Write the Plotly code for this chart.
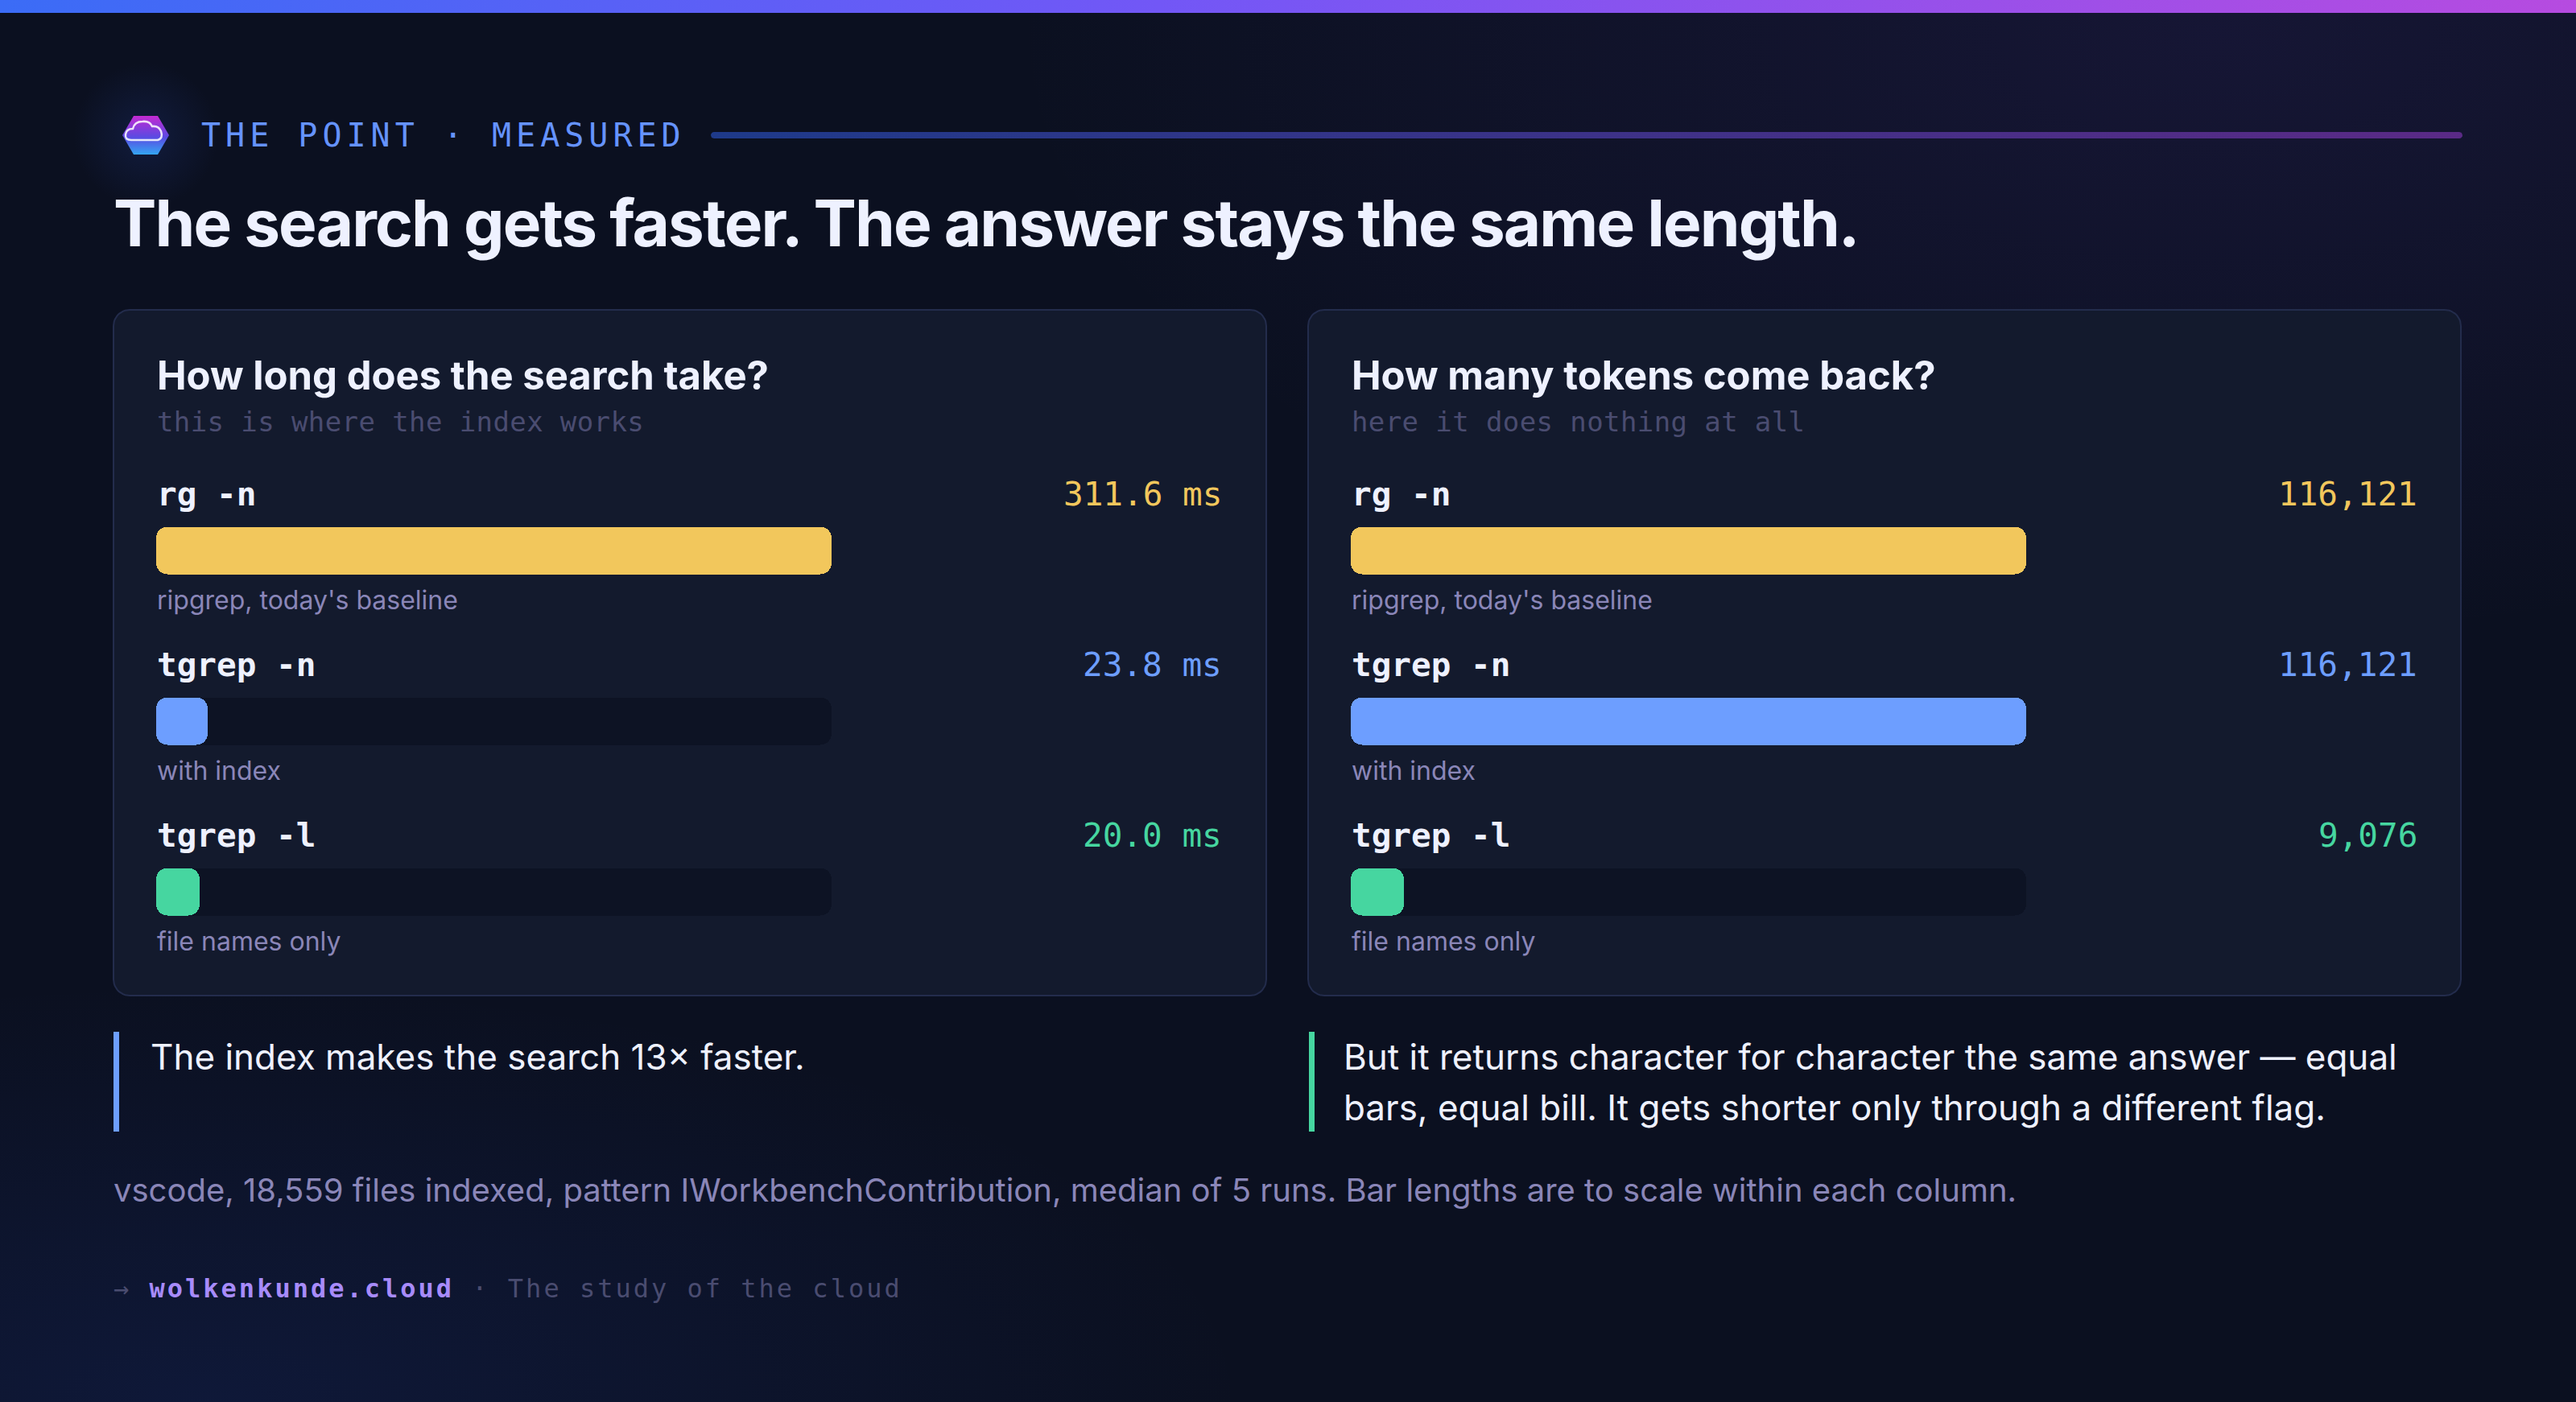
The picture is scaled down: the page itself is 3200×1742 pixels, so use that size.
import json
import numpy as np
import plotly.graph_objects as go

W, H = 3200, 1742

# ---------------- data ----------------
commands = ["rg -n", "tgrep -n", "tgrep -l"]
notes = ["ripgrep, today's baseline", "with index", "file names only"]
time_ms = [311.6, 23.8, 20.0]
tokens = [116121, 116121, 9076]
bar_colors = ["#f2c75c", "#6d9eff", "#46d6a0"]

time_labels = [f"{v:.1f} ms" for v in time_ms]
token_labels = [f"{v:,}" for v in tokens]

# ---------------- style ----------------
BG = "#0b1020"
PANEL = "#131a2d"
PANEL_LINE = "#232c4c"
TRACK = "#0d1324"
WHITE = "#eef1ff"
MUTED = "#8a86b8"
DIM = "#4a4c70"
SANS = "Inter"
MONO = "DejaVu Sans Mono"


def px(x):
    return x / W


def py(y):
    return 1 - y / H


def rounded_rect(x0, y0, x1, y1, r, n=12):
    xs, ys = [], []
    corners = [(x1 - r, y0 + r, -90, 0), (x1 - r, y1 - r, 0, 90),
               (x0 + r, y1 - r, 90, 180), (x0 + r, y0 + r, 180, 270)]
    for cx, cy, a0, a1 in corners:
        t = np.radians(np.linspace(a0, a1, n))
        xs += list(cx + r * np.cos(t))
        ys += list(cy + r * np.sin(t))
    xs.append(xs[0]); ys.append(ys[0])
    return xs, ys


def ellipse(cx, cy, rx, ry, n=90):
    t = np.linspace(0, 2 * np.pi, n)
    return list(cx + rx * np.cos(t)), list(cy + ry * np.sin(t))


fig = go.Figure()


def deco(xs, ys, fill=None, grad=None, line=None, lw=0):
    kw = dict(x=xs, y=ys, mode="lines", fill="toself", hoverinfo="skip",
              showlegend=False, xaxis="x", yaxis="y",
              line=dict(width=lw, color=line or "rgba(0,0,0,0)"))
    if grad is not None:
        kw["fillgradient"] = grad
    else:
        kw["fillcolor"] = fill
    fig.add_trace(go.Scatter(**kw))


# background glows
deco(*ellipse(2750, 40, 1500, 760),
     grad=dict(type="radial", colorscale=[[0, "rgba(110,70,220,0.11)"], [1, "rgba(110,70,220,0)"]]))
deco(*ellipse(250, 1742, 1300, 520),
     grad=dict(type="radial", colorscale=[[0, "rgba(40,80,220,0.13)"], [1, "rgba(40,80,220,0)"]]))
deco(*ellipse(181, 168, 90, 90),
     grad=dict(type="radial", colorscale=[[0, "rgba(40,70,170,0.22)"], [1, "rgba(40,70,170,0)"]]))

# top gradient strip
deco([0, W, W, 0, 0], [0, 0, 16, 16, 0],
     grad=dict(type="horizontal", colorscale=[[0, "#3b6cf6"], [0.45, "#7257f6"], [1, "#b64be0"]]))

# header rule
deco(*rounded_rect(883, 164, 3059, 172, 4, 6),
     grad=dict(type="horizontal", colorscale=[[0, "#1e3a8a"], [1, "#5a2a86"]]))

# icon hexagon
hx = [152, 166, 196, 210, 196, 166, 152]
hy = [168, 144, 144, 168, 192, 192, 168]
deco(hx, hy, grad=dict(type="vertical",
                       colorscale=[[0, "#34a6f4"], [0.45, "#5a4ae2"], [1, "#c42ad2"]]))

# panels
for x0 in (141, 1625):
    deco(*rounded_rect(x0, 385, x0 + 1432, 1237, 20), fill=PANEL, line=PANEL_LINE, lw=2)

# note accent bars
deco([141, 148, 148, 141, 141], [1282, 1282, 1406, 1406, 1282], fill=bar_colors[1])
deco([1626, 1633, 1633, 1626, 1626], [1282, 1282, 1406, 1406, 1282], fill=bar_colors[2])

# ---------------- bars ----------------
# An explicit base makes plotly round both ends of each bar.
rows = list(range(len(commands)))
BAR_W = 0.278
RAD = 14


def bars(vals, colors, xa, ya):
    fig.add_trace(go.Bar(x=vals, base=[0] * len(vals), y=rows, orientation="h", width=BAR_W,
                         marker=dict(color=colors, cornerradius=RAD, line=dict(width=0)),
                         hoverinfo="skip", showlegend=False, xaxis=xa, yaxis=ya))


for vals, xa, ya in ((time_ms, "x2", "y2"), (tokens, "x3", "y3")):
    bars([max(vals)] * len(vals), TRACK, xa, ya)   # track = column maximum
    bars(vals, bar_colors, xa, ya)

ann = []


def A(text, x, y, size, color, family=SANS, weight=400, xanchor="left", yanchor="middle",
      xref="paper", yref="paper", yshift=0, align=None):
    ann.append(dict(text=text, x=x, y=y, xref=xref, yref=yref, xanchor=xanchor, yanchor=yanchor,
                    yshift=yshift, showarrow=False, align=align or xanchor,
                    font=dict(family=family, size=size, color=color, weight=weight)))


# header + title
A("THE POINT · MEASURED", px(248), py(168), 40, "#6593ff", family=MONO)
A("The search gets faster. The answer stays the same length.", px(139), py(277), 80, WHITE, weight=700)

# panel content
panels = [
    dict(x0=194, x1=1520, yref="y2", title="How long does the search take?",
         sub="this is where the index works", labels=time_labels),
    dict(x0=1678, x1=3005, yref="y3", title="How many tokens come back?",
         sub="here it does nothing at all", labels=token_labels),
]
for p in panels:
    A(p["title"], px(p["x0"] - 1), py(466), 49, WHITE, weight=700)
    A(p["sub"], px(p["x0"] - 1), py(524), 34, DIM, family=MONO)
    for i in rows:
        A(commands[i], px(p["x0"] - 1), i, 41, WHITE, family=MONO, weight=700, yref=p["yref"], yshift=70)
        A(p["labels"][i], px(p["x1"]), i, 41, bar_colors[i], family=MONO, yref=p["yref"], yshift=70,
          xanchor="right")
        A(notes[i], px(p["x0"] - 1), i, 32, MUTED, yref=p["yref"], yshift=-62)

# takeaways
A("The index makes the search 13× faster.", px(185), py(1284), 44, WHITE, yanchor="top")
A("But it returns character for character the same answer — equal<br>"
  "bars, equal bill. It gets shorter only through a different flag.",
  px(1667), py(1284), 44, WHITE, yanchor="top")

A("vscode, 18,559 files indexed, pattern IWorkbenchContribution, median of 5 runs. "
  "Bar lengths are to scale within each column.", px(139), py(1478), 40, MUTED)

A(f"<span style='color:{DIM}'>→ </span><b><span style='color:#a78bfa'>wolkenkunde.cloud</span></b>"
  f"<span style='color:{DIM}'> · The study of the cloud</span>", px(139), py(1601), 32, DIM, family=MONO)

# cloud glyph in the icon
cloud = ("M 163,174 Q 155,174 156,167 Q 157,160 165,160 Q 167,151 177,151 "
         "Q 186,150 189,157 Q 197,156 200,163 Q 203,172 196,174 Z")

axis_off = dict(visible=False, showgrid=False, zeroline=False, fixedrange=True)
YDOM = [py(1214), py(577.5)]
fig.update_layout(
    width=W, height=H, margin=dict(l=0, r=0, t=0, b=0),
    paper_bgcolor=BG, plot_bgcolor="rgba(0,0,0,0)",
    barmode="overlay", bargap=0, showlegend=False,
    xaxis=dict(domain=[0, 1], range=[0, W], **axis_off),
    yaxis=dict(domain=[0, 1], range=[H, 0], **axis_off),
    xaxis2=dict(domain=[px(194), px(1033)], range=[0, max(time_ms)], anchor="y2", **axis_off),
    yaxis2=dict(domain=YDOM, range=[2.5, -0.5], anchor="x2", **axis_off),
    xaxis3=dict(domain=[px(1678), px(2517)], range=[0, max(tokens)], anchor="y3", **axis_off),
    yaxis3=dict(domain=YDOM, range=[2.5, -0.5], anchor="x3", **axis_off),
    annotations=ann,
    shapes=[dict(type="path", path=cloud, xref="x", yref="y", layer="above",
                 line=dict(color="rgba(255,255,255,0.85)", width=2.5),
                 fillcolor="rgba(0,0,0,0)")],
)

spacing = {"THE POINT": "6px", "→": "3px", "The search gets": "-1.9px", "this is where": "0.4px",
           "here it does": "0.4px"}
post = """
document.documentElement.style.margin = '0';
document.body.style.margin = '0';
document.body.style.padding = '0';
document.body.style.background = '%s';
document.body.style.overflow = 'hidden';
var gd = document.getElementById('{plot_id}');
function ls(){ try { var m = %s;
  gd.querySelectorAll('text.annotation-text').forEach(function(t){
    var s = t.textContent || '';
    for (var k in m){ if (s.indexOf(k) === 0){ t.style.letterSpacing = m[k]; } }
    if (s.indexOf('But it returns') === 0) {
      t.querySelectorAll('tspan.line').forEach(function(tl, i){
        if (i > 0 && !tl.getAttribute('data-adj')) {
          var d = parseFloat(tl.getAttribute('dy') || '0');
          tl.setAttribute('dy', (d * 1.10) + 'em');
          tl.setAttribute('data-adj', '1');
        }
      });
    }
  }); } catch(e) {} }
ls(); if (gd.on) { gd.on('plotly_afterplot', ls); }
""" % (BG, json.dumps(spacing, ensure_ascii=False))

fig.write_html("out.html", post_script=post, config={"displayModeBar": False})
